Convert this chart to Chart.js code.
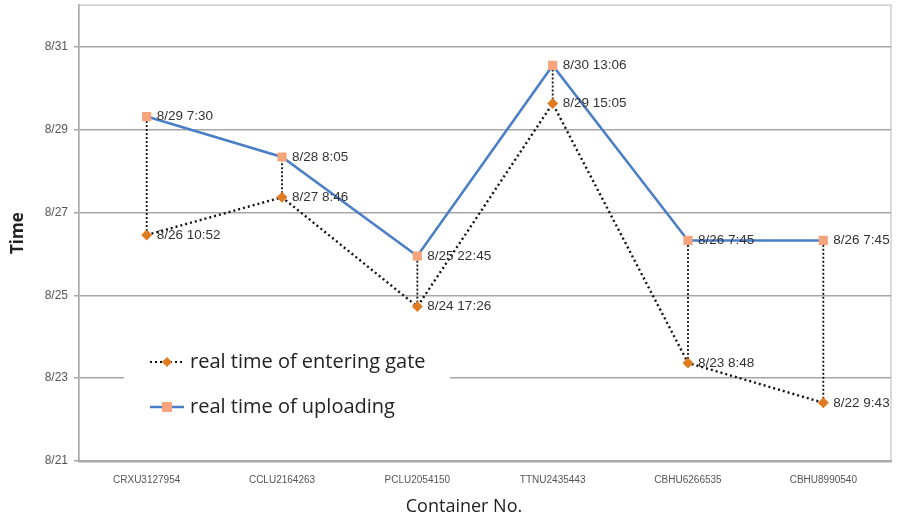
<!DOCTYPE html>
<html lang="en">

<head>
  <meta charset="UTF-8">
  <title>Container Time Chart</title>
  <script src="https://cdn.jsdelivr.net/npm/chart.js"></script>
  <style>
    html, body {
      margin: 0;
      padding: 0;
      background: #fff;
      overflow: hidden;
    }

    /* canvas is a bit taller and pulled up so the plot top sits near the edge */
    #wrap {
      width: 898px;
      height: 527px;
      margin-top: -8px;
    }
  </style>
</head>

<body>
  <div id="wrap"><canvas id="chart"></canvas></div>

  <script>
    // container numbers (x categories)
    var containers = ['CRXU3127954', 'CCLU2164263', 'PCLU2054150', 'TTNU2435443', 'CBHU6266535', 'CBHU8990540'];

    // y values as day-of-August with fraction of day
    var gateValues = [26.453, 27.365, 24.726, 29.628, 23.367, 22.405];
    var uploadValues = [29.313, 28.337, 25.948, 30.546, 26.323, 26.323];

    // point labels as printed on the chart
    var gateLabels = ['8/26 10:52', '8/27 8:46', '8/24 17:26', '8/29 15:05', '8/23 8:48', '8/22 9:43'];
    var uploadLabels = ['8/29 7:30', '8/28 8:05', '8/25 22:45', '8/30 13:06', '8/26 7:45', '8/26 7:45'];

    // y-axis ticks (day of August)
    var yTicks = [21, 23, 25, 27, 29, 31];

    var gateName = 'real time of entering gate';
    var uploadName = 'real time of uploading';
    var xTitle = 'Container No.';

    var gateColor = '#e07b22';
    var uploadColor = '#f7a37c';
    var lineBlue = '#4a7ec6';
    var shift = 8; // same as the negative margin on #wrap

    // dotted drop lines between the two points of each container
    var dropLines = {
      id: 'dropLines',
      beforeDatasetsDraw: function (chart) {
        var ctx = chart.ctx;
        var a = chart.getDatasetMeta(0).data;
        var b = chart.getDatasetMeta(1).data;
        ctx.save();
        ctx.strokeStyle = '#111';
        ctx.lineWidth = 1.8;
        ctx.setLineDash([2, 2]);
        for (var i = 0; i < a.length; i++) {
          ctx.beginPath();
          ctx.moveTo(a[i].x, a[i].y);
          ctx.lineTo(b[i].x, b[i].y);
          ctx.stroke();
        }
        ctx.restore();
      }
    };

    // plot border, point labels, x title and the legend inside the plot
    var extras = {
      id: 'extras',
      beforeDraw: function (chart) {
        var ca = chart.chartArea;
        var ctx = chart.ctx;
        ctx.save();
        ctx.strokeStyle = '#cfcfcf';
        ctx.lineWidth = 1.5;
        ctx.strokeRect(ca.left, ca.top, ca.right - ca.left, ca.bottom - ca.top);
        ctx.restore();
      },
      afterDraw: function (chart) {
        var ctx = chart.ctx;
        ctx.save();
        ctx.font = '13.5px "Liberation Sans", Arial, sans-serif';
        ctx.fillStyle = '#333';
        ctx.textBaseline = 'middle';
        ctx.textAlign = 'left';
        var sets = [[0, gateLabels], [1, uploadLabels]];
        sets.forEach(function (s) {
          var pts = chart.getDatasetMeta(s[0]).data;
          pts.forEach(function (p, i) {
            ctx.fillText(s[1][i], p.x + 10, p.y);
          });
        });

        // x axis title, sits a bit left of centre like the original
        ctx.fillStyle = '#222';
        ctx.font = '18px "Open Sans", sans-serif';
        ctx.textAlign = 'center';
        ctx.fillText(xTitle, 464, 507 + shift);
        ctx.textAlign = 'left';

        // legend box
        var y = chart.scales.y;
        var top = y.getPixelForValue(23.9);
        ctx.fillStyle = '#fff';
        ctx.fillRect(124, top, 326, 74);

        var rows = [
          { name: gateName, y: 362 + shift, dash: [2, 3], color: '#111', mark: 'diamond' },
          { name: uploadName, y: 407 + shift, dash: [], color: lineBlue, mark: 'square' }
        ];
        rows.forEach(function (r) {
          ctx.strokeStyle = r.color;
          ctx.lineWidth = r.dash.length ? 2.2 : 2.5;
          ctx.setLineDash(r.dash);
          ctx.beginPath();
          ctx.moveTo(150, r.y);
          ctx.lineTo(184, r.y);
          ctx.stroke();
          ctx.setLineDash([]);
          if (r.mark === 'diamond') {
            ctx.fillStyle = gateColor;
            ctx.beginPath();
            ctx.moveTo(167, r.y - 5);
            ctx.lineTo(172, r.y);
            ctx.lineTo(167, r.y + 5);
            ctx.lineTo(162, r.y);
            ctx.closePath();
            ctx.fill();
          } else {
            ctx.fillStyle = uploadColor;
            ctx.fillRect(162, r.y - 5, 10, 10);
          }
          ctx.fillStyle = '#222';
          ctx.font = '20px "Open Sans", sans-serif';
          ctx.fillText(r.name, 190, r.y);
        });
        ctx.restore();
      }
    };

    new Chart(document.getElementById('chart'), {
      type: 'line',
      data: {
        labels: containers,
        datasets: [{
          label: gateName,
          data: gateValues,
          borderColor: '#111',
          borderWidth: 2.4,
          borderDash: [2, 3],
          pointStyle: 'rectRot',
          pointRadius: 5.5,
          pointBackgroundColor: gateColor,
          pointBorderColor: gateColor,
          pointBorderWidth: 0,
          tension: 0,
          order: 2
        }, {
          label: uploadName,
          data: uploadValues,
          borderColor: lineBlue,
          borderWidth: 2.5,
          pointStyle: 'rect',
          pointRadius: 6.5,
          pointBackgroundColor: uploadColor,
          pointBorderColor: uploadColor,
          pointBorderWidth: 0,
          tension: 0,
          order: 1
        }]
      },
      options: {
        responsive: true,
        maintainAspectRatio: false,
        animation: false,
        layout: { padding: { top: 5, right: 7, left: 0, bottom: 0 } },
        plugins: {
          legend: { display: false },
          tooltip: { enabled: false }
        },
        scales: {
          x: {
            offset: true,
            grid: { display: false, drawTicks: false },
            border: { color: '#aaa', width: 2.5 },
            ticks: {
              color: '#555',
              font: { size: 10, family: '"Liberation Sans", Arial, sans-serif' },
              padding: 13,
              maxRotation: 0
            },
            afterFit: function (s) { s.height = 58; }
          },
          y: {
            min: 21,
            max: 32,
            afterBuildTicks: function (s) {
              s.ticks = yTicks.map(function (v) { return { value: v }; });
            },
            grid: {
              color: '#a6a6a6',
              lineWidth: 1.5,
              tickLength: 5
            },
            border: { color: '#aaa', width: 1.5 },
            ticks: {
              color: '#555',
              font: { size: 12, family: '"Liberation Sans", Arial, sans-serif' },
              padding: 6,
              callback: function (v) { return '8/' + v; }
            },
            title: {
              display: true,
              text: 'Time',
              color: '#222',
              font: { size: 17, weight: 'bold', family: '"Open Sans", sans-serif' },
              padding: { top: 8, bottom: 0 }
            },
            afterFit: function (s) { s.width = 79; }
          }
        }
      },
      plugins: [dropLines, extras]
    });
  </script>
</body>

</html>
